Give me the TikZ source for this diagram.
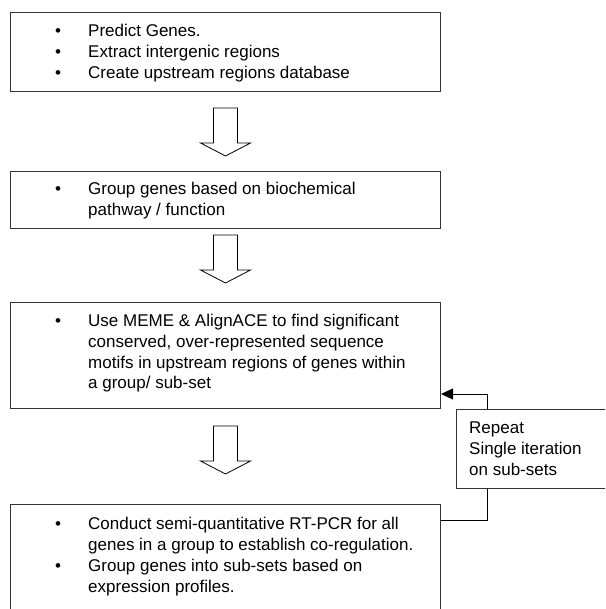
\documentclass[tikz,border=0pt]{standalone}
\usepackage{fontspec}
\setmainfont{Liberation Sans}
\usetikzlibrary{arrows.meta,calc}
\begin{document}
\begin{tikzpicture}[x=1pt,y=-1pt,
  box/.style={draw=black!80, line width=1pt, rectangle, anchor=north west, inner sep=0pt},
  txt/.style={anchor=base west, inner sep=0pt, font=\fontsize{17}{21}\selectfont},
  bul/.style={anchor=base, inner sep=0pt, font=\fontsize{17}{21}\selectfont},
  blockarrow/.style={draw=black, line width=0.8pt, fill=white, line join=miter},
  link/.style={draw=black, line width=0.9pt},
  blockdown/.pic={\draw[blockarrow] (-12,0) -- (12,0) -- (12,35) -- (25,35) -- (0,48) -- (-25,35) -- (-12,35) -- cycle;}]
\useasboundingbox (0,0) rectangle (605,609);
\clip (0,0) rectangle (605,609);
% boxes
\node[box, minimum width=430pt, minimum height=79pt] (b1) at (10,12) {};
\node[box, minimum width=430pt, minimum height=57pt] (b2) at (10,171) {};
\node[box, minimum width=430pt, minimum height=106pt] (b3) at (10,302) {};
\node[box, minimum width=430pt, minimum height=130pt] (b4) at (10,504) {};
\node[box, minimum width=170pt, minimum height=79pt] (rb) at (456,409) {};
% block arrows
\path ($(b1.south)+(0,16)$) pic {blockdown};
\path ($(b2.south)+(0,6)$) pic {blockdown};
\path ($(b3.south)+(0,17)$) pic {blockdown};
% box 1 text
\node[bul] (u11) at (58,37) {•};
\node[txt] (t11) at (88,37) {Predict Genes.};
\node[bul] (u12) at (58,58) {•};
\node[txt] (t12) at (88,58) {Extract intergenic regions};
\node[bul] (u13) at (58,79) {•};
\node[txt] (t13) at (88,79) {Create upstream regions database};
% box 2 text
\node[bul] (u21) at (58,195) {•};
\node[txt] (t21) at (88,195) {Group genes based on biochemical};
\node[txt] (t22) at (88,216) {pathway / function};
% box 3 text
\node[bul] (u31) at (58,326) {•};
\node[txt] (t31) at (88,326) {Use MEME \& AlignACE to find significant};
\node[txt] (t32) at (88,347) {conserved, over-represented sequence};
\node[txt] (t33) at (88,368) {motifs in upstream regions of genes within};
\node[txt] (t34) at (88,388) {a group/ sub-set};
% box 4 text
\node[bul] (u41) at (58,529) {•};
\node[txt] (t41) at (88,529) {Conduct semi-quantitative RT-PCR for all};
\node[txt] (t42) at (88,550) {genes in a group to establish co-regulation.};
\node[bul] (u43) at (58,571) {•};
\node[txt] (t43) at (88,571) {Group genes into sub-sets based on};
\node[txt] (t44) at (88,592) {expression profiles.};
% repeat box text
\node[txt] (r1) at (469,433) {Repeat};
\node[txt] (r2) at (469,454) {Single iteration};
\node[txt] (r3) at (469,475) {on sub-sets};
% feedback connectors
\coordinate (fbtop) at ($(b3.south east)+(0,-15)$);
\coordinate (fbbot) at ($(b4.north east)+(0,16)$);
\coordinate (rbt) at ($(rb.north west)+(31,0)$);
\coordinate (rbb) at ($(rb.south west)+(31,0)$);
\draw[link,-{Triangle[length=12pt,width=11pt]}] (rbt) |- (fbtop);
\draw[link] (rbb) |- (fbbot);
\end{tikzpicture}
\end{document}
